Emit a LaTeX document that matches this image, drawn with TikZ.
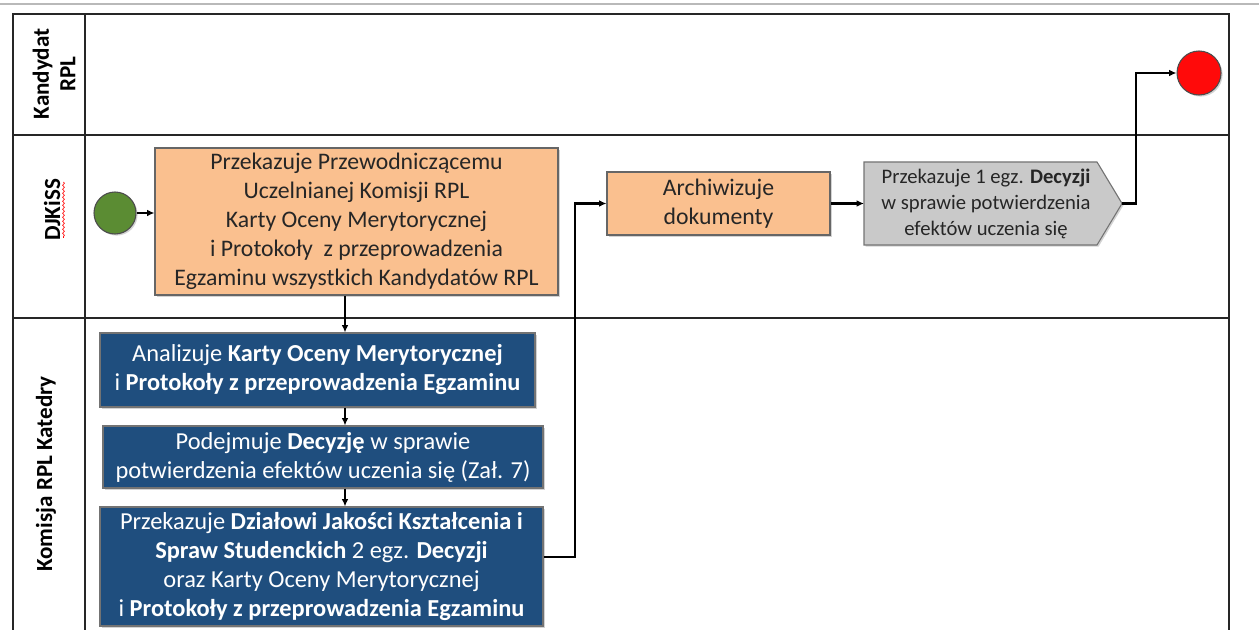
\documentclass[tikz,border=0pt]{standalone}
\usepackage{fontspec}
\setmainfont{Carlito}
\usetikzlibrary{arrows.meta,shadows,decorations.pathmorphing,calc}
\definecolor{orangefill}{HTML}{FAC08F}
\definecolor{bluefill}{HTML}{1F4E7E}
\definecolor{grayfill}{HTML}{C9C9C9}
\definecolor{greenfill}{HTML}{5B8C33}
\definecolor{redfill}{HTML}{FF0A0A}
\begin{document}
\begin{tikzpicture}[x=0.75pt,y=-0.75pt,
  lane/.style={draw=black!85,line width=0.9pt},
  hdr/.style={font=\bfseries\fontsize{17.3}{20}\selectfont,rotate=90,align=center,inner sep=0pt},
  shad/.style={drop shadow={opacity=0.35,shadow xshift=1.2pt,shadow yshift=-1.2pt}},
  obox/.style={draw=black!60,fill=orangefill,line width=0.8pt,align=center,
    font=\fontsize{17.8}{21.75}\selectfont,text=black!85,inner sep=0pt,shad},
  bbox/.style={draw=black!55,fill=bluefill,line width=0.8pt,align=center,
    font=\fontsize{18.3}{21.75}\selectfont,text=white,inner sep=0pt,shad},
  ptext/.style={align=center,font=\fontsize{15.5}{19.5}\selectfont,text=black!85,inner sep=0pt},
  conn/.style={draw=black,line width=1.6pt,-{Latex[length=5.5pt,width=5pt]}},
  startc/.style={circle,draw=black!70,fill=greenfill,line width=0.8pt,minimum size=31.5pt,inner sep=0pt,shad},
  endc/.style={circle,draw=black!70,fill=redfill,line width=0.8pt,minimum size=33pt,inner sep=0pt,shad}
]
\useasboundingbox (0,0) rectangle (1259,630);
% top gray rule
\draw[gray!55,line width=2.2pt] (0,4) -- (1259,4);
% swimlane table
\draw[lane] (13,630) -- (13,14) -- (1229,14) -- (1229,630);
\draw[lane] (85,14) -- (85,630);
\draw[lane] (13,135) -- (1229,135);
\draw[lane] (13,318) -- (1229,318);
% lane headers
\node[hdr] (h1) at (54,74) {Kandydat\\RPL};
\node[hdr] (h2) at (52,210) {DJKiSS};
\draw[red,line width=0.5pt,decorate,decoration={snake,amplitude=0.7pt,segment length=3pt}] (63.5,182) -- (63.5,238);
\node[hdr] (h3) at (46,474) {Komisja RPL Katedry};

% nodes
\node[startc] (start) at (115,213) {};
\node[endc] (end) at (1199,73) {};
\node[obox,minimum width=302.25pt,minimum height=110.25pt] (o1) at (356.5,221.5)
  {Przekazuje Przewodniczącemu\\Uczelnianej Komisji RPL\\Karty Oceny Merytorycznej\\i Protokoły\ \ z przeprowadzenia\\Egzaminu wszystkich Kandydatów RPL};
\node[obox,minimum width=167.25pt,minimum height=47.25pt] (arch) at (718.5,203.5)
  {Archiwizuje\\dokumenty};
% pentagon (signal) shape
\coordinate (pl) at (864,203.5);
\coordinate (ptip) at (1122,203.5);
\path[draw=black!55,fill=grayfill,line width=0.8pt,shad] (864,162) -- (1097,162) -- (ptip) -- (1097,245) -- (864,245) -- cycle;
\node[ptext] (pent) at (986,204)
  {Przekazuje 1 egz. \textbf{Decyzji}\\w sprawie potwierdzenia\\efektów uczenia się};

\node[bbox,minimum width=326.25pt,minimum height=55.5pt] (b1) at (317.5,370)
  {Analizuje \textbf{Karty Oceny Merytorycznej}\\i \textbf{Protokoły z przeprowadzenia Egzaminu}};
\node[bbox,minimum width=330pt,minimum height=46.5pt] (b2) at (323,457)
  {Podejmuje \textbf{Decyzję} w sprawie\\potwierdzenia efektów uczenia się (Zał. 7)};
\node[bbox,minimum width=332.25pt,minimum height=89.25pt] (b3) at (321.5,566.5)
  {Przekazuje \textbf{Działowi Jakości Kształcenia i}\\\textbf{Spraw Studenckich} 2 egz. \textbf{Decyzji}\\oraz Karty Oceny Merytorycznej\\i \textbf{Protokoły z przeprowadzenia Egzaminu}};

% connectors
\coordinate (ax) at (345,0);
\coordinate (k1) at (575,557);
\coordinate (k2) at (1136,73);
\draw[conn] (start.east) -- (start.east -| o1.west);
\draw[conn] (o1.south -| ax) -- (b1.north -| ax);
\draw[conn] (b1.south -| ax) -- (b2.north -| ax);
\draw[conn] (b2.south -| ax) -- (b3.north -| ax);
\draw[conn] (b3.east |- k1) -- (k1) |- (arch.west);
\draw[conn] (arch.east) -- (pl);
\draw[conn] (ptip) -| (k2) -- (end.west);
\end{tikzpicture}
\end{document}
